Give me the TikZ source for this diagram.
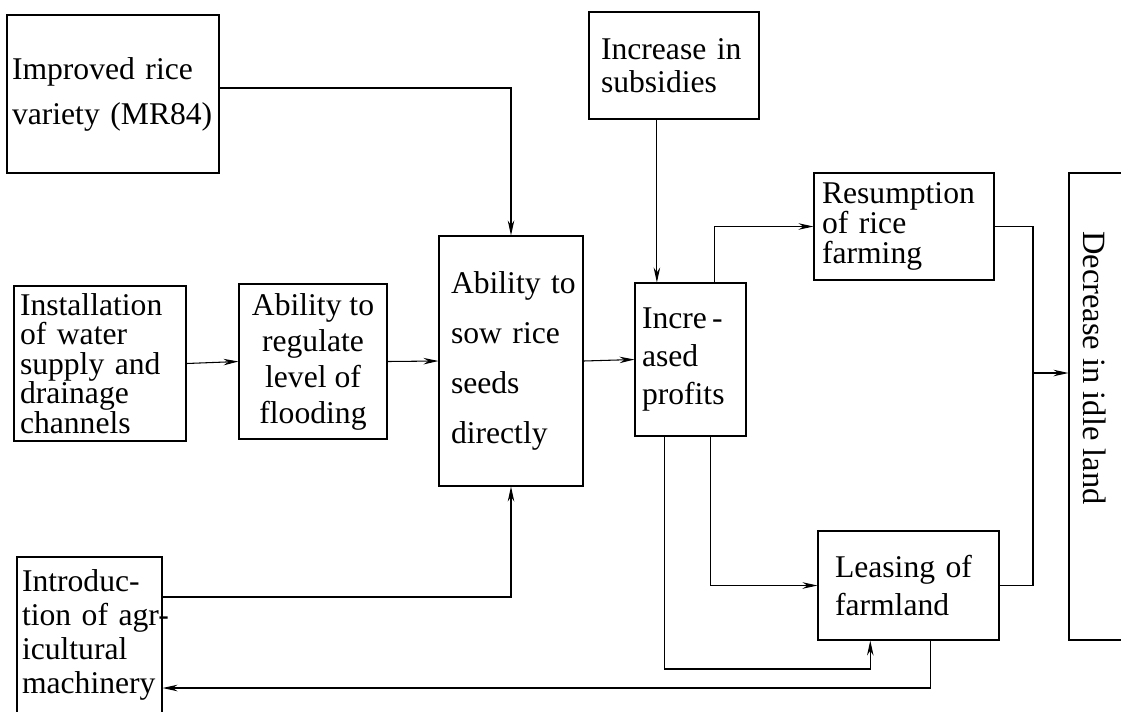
\documentclass[tikz,border=0pt]{standalone}
\usepackage{fontspec}
\setmainfont{Liberation Serif}
\usetikzlibrary{arrows.meta,calc}
\newlength\unitpx
\setlength\unitpx{0.02cm}

\begin{document}
\begin{tikzpicture}[
    x=0.02cm, y=-0.02cm,
    >={Stealth[length=3mm,width=1.3mm]},
    line width=0.6pt,
    box/.style={draw, inner sep=0pt, align=left,
                font=\fontsize{18}{#1}\selectfont},
    box/.default=21pt
]
    \useasboundingbox (0,0) rectangle (1121,711);
    \clip (0,0) rectangle (1121,711);
    \fill[white] (0,0) rectangle (1121,711);

    \node[box=25.6pt, minimum width=212\unitpx, minimum height=158\unitpx,
          text width=202\unitpx] (imp) at (113,94)
        {Improved~rice\\variety~(MR84)};
    \node[box=18.8pt, minimum width=170\unitpx, minimum height=107\unitpx,
          text width=146\unitpx] (sub) at (674,65.5)
        {Increase~in\\subsidies};
    \node[box=17.1pt, minimum width=180\unitpx, minimum height=107\unitpx,
          text width=164\unitpx] (res) at (904,226.5)
        {Resumption\\of~rice\\farming};
    \node[box=16.8pt, minimum width=172\unitpx, minimum height=155\unitpx,
          text width=160\unitpx] (ins) at (100,363.5)
        {Installation\\of~water\\supply~and\\drainage\\channels};
    \node[box=20.5pt, align=center, minimum width=148\unitpx,
          minimum height=155\unitpx] (reg) at (313,361.5)
        {Ability~to\\regulate\\level~of\\flooding};
    \node[box=28.5pt, minimum width=144\unitpx, minimum height=250\unitpx,
          text width=120\unitpx] (sow) at (511,361)
        {Ability~to\\sow~rice\\seeds\\directly};
    \node[box=21.6pt, minimum width=111\unitpx, minimum height=153\unitpx,
          text width=97\unitpx] (pro) at (690.5,359.5)
        {Incre\,-\\ased\\profits};
    \node[box=21.6pt, minimum width=181\unitpx, minimum height=109\unitpx,
          text width=147\unitpx] (lea) at (908.5,585.5)
        {Leasing~of\\farmland};
    \node[box=19.4pt, minimum width=145\unitpx, minimum height=156\unitpx,
          text width=135\unitpx] (mac) at (89.5,635)
        {\mbox{Introduc-}\\\mbox{tion of agr-}\\icultural\\machinery};
    \node[draw, minimum width=71\unitpx, minimum height=467\unitpx]
        (dec) at (1104.5,406.5) {};
    \node[rotate=-90, font=\fontsize{18.5}{21}\selectfont] (dectext)
        at (1095,368) {Decrease in idle land};

    \coordinate (row0) at (0,88);
    \coordinate (row1) at (0,597);
    \coordinate (row2) at (0,688);
    \coordinate (row3) at (0,669);
    \coordinate (p1) at ($(pro.north west)!0.2!(pro.north east)$);
    \coordinate (p2) at ($(pro.north west)!0.71!(pro.north east)$);
    \coordinate (p3) at ($(pro.south west)!0.27!(pro.south east)$);
    \coordinate (p4) at ($(pro.south west)!0.68!(pro.south east)$);
    \coordinate (l1) at ($(lea.south west)!0.29!(lea.south east)$);
    \coordinate (l2) at ($(lea.south west)!0.62!(lea.south east)$);
    \coordinate (bus) at (1033,373);

    \draw[->] (row0 -| imp.east) -| (sow.north);
    \draw[->] (ins.east) -- (reg.west);
    \draw[->] (reg.east) -- (sow.west);
    \draw[->] (sow.east) -- (pro.west);
    \draw[->] (sub.south -| p1) -- (p1);
    \draw[->] (p2) |- (res.west);
    \draw[->] (p4) |- (lea.west);
    \draw[->] (p3) |- (row3 -| l1) -- (l1);
    \draw (res.east) -| (bus) |- (lea.east);
    \draw[->] (bus) -- (bus -| dec.west);
    \draw[->] (l2) |- (row2 -| mac.east);
    \draw[->] (row1 -| mac.east) -| (sow.south);
\end{tikzpicture}
\end{document}
